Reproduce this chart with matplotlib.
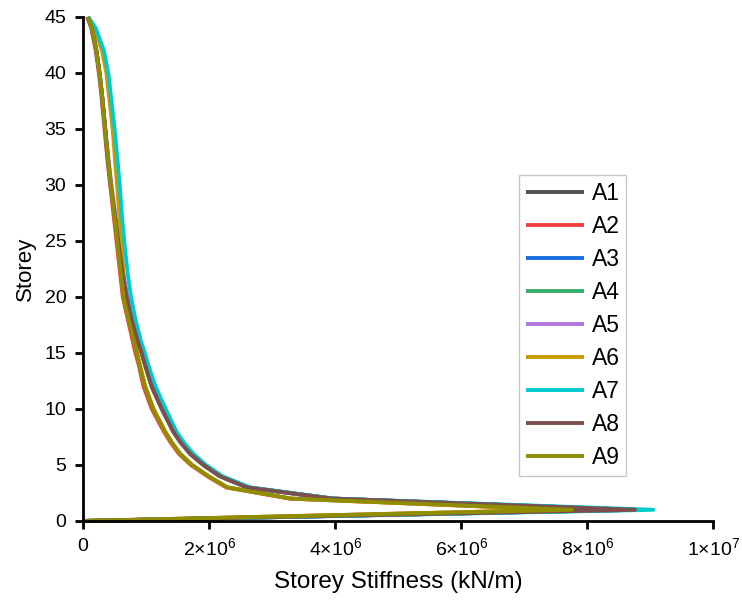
import numpy as np
from matplotlib import pyplot as plt

plt.rcParams['font.family'] = ['Liberation Sans', 'DejaVu Sans']
plt.rcParams['mathtext.fontset'] = 'custom'
plt.rcParams['mathtext.rm'] = 'Liberation Sans'
plt.rcParams['mathtext.it'] = 'Liberation Sans'

# storey numbers and stiffness values (x1e6 kN/m)
storey = [0, 1, 2, 3, 4, 5, 6, 7, 8, 10, 12, 14, 15, 16, 18, 20, 22, 24, 27, 30, 32, 35, 38, 40, 42, 44, 45]

A1 = [0, 8.76, 3.95, 2.60, 2.17, 1.91, 1.70, 1.55, 1.43, 1.25, 1.09, 0.98, 0.93, 0.87, 0.77, 0.69, 0.63, 0.58, 0.51, 0.44, 0.40, 0.35, 0.30, 0.26, 0.21, 0.14, 0.07]
A2 = [0, 7.70, 3.28, 2.27, 1.97, 1.71, 1.52, 1.39, 1.28, 1.09, 0.96, 0.88, 0.83, 0.79, 0.71, 0.63, 0.59, 0.55, 0.49, 0.43, 0.39, 0.34, 0.29, 0.25, 0.20, 0.13, 0.07]
A3 = [0, 8.75, 3.95, 2.61, 2.18, 1.92, 1.71, 1.56, 1.44, 1.26, 1.10, 0.99, 0.94, 0.88, 0.78, 0.70, 0.63, 0.58, 0.51, 0.44, 0.40, 0.35, 0.30, 0.26, 0.21, 0.14, 0.07]
A4 = [0, 8.74, 3.94, 2.60, 2.17, 1.91, 1.70, 1.55, 1.43, 1.25, 1.09, 0.98, 0.93, 0.87, 0.77, 0.69, 0.63, 0.58, 0.51, 0.44, 0.40, 0.35, 0.30, 0.26, 0.21, 0.14, 0.07]
A5 = [0, 8.76, 3.95, 2.61, 2.18, 1.92, 1.71, 1.56, 1.44, 1.26, 1.10, 0.99, 0.94, 0.88, 0.78, 0.70, 0.64, 0.59, 0.52, 0.45, 0.41, 0.35, 0.30, 0.26, 0.21, 0.14, 0.07]
A6 = [0, 7.60, 3.30, 2.29, 1.99, 1.73, 1.54, 1.41, 1.30, 1.12, 0.99, 0.90, 0.86, 0.82, 0.74, 0.67, 0.64, 0.62, 0.58, 0.54, 0.51, 0.47, 0.41, 0.37, 0.30, 0.18, 0.08]
A7 = [0, 9.05, 3.98, 2.65, 2.21, 1.95, 1.75, 1.60, 1.48, 1.31, 1.15, 1.03, 0.98, 0.92, 0.83, 0.76, 0.71, 0.67, 0.62, 0.58, 0.55, 0.50, 0.44, 0.40, 0.33, 0.20, 0.08]
A8 = [0, 8.76, 3.95, 2.60, 2.17, 1.91, 1.70, 1.55, 1.43, 1.25, 1.09, 0.98, 0.93, 0.87, 0.77, 0.69, 0.63, 0.58, 0.51, 0.44, 0.40, 0.35, 0.30, 0.26, 0.21, 0.14, 0.07]
A9 = [0, 7.76, 3.30, 2.29, 1.99, 1.73, 1.54, 1.41, 1.30, 1.11, 0.98, 0.89, 0.85, 0.81, 0.72, 0.64, 0.60, 0.56, 0.50, 0.44, 0.40, 0.35, 0.30, 0.26, 0.21, 0.14, 0.07]

names = ['A1', 'A2', 'A3', 'A4', 'A5', 'A6', 'A7', 'A8', 'A9']
series = [A1, A2, A3, A4, A5, A6, A7, A8, A9]
colors = ['#515151', '#F14040', '#1A6FDF', '#37AD6B', '#B177DE',
          '#CC9900', '#00CBCC', '#7D4E4E', '#8E8E00']

xticks = [0, 2e6, 4e6, 6e6, 8e6, 1e7]
xlabels = ['0', r'$2{\times}10^6$', r'$4{\times}10^6$', r'$6{\times}10^6$',
           r'$8{\times}10^6$', r'$1{\times}10^7$']

fig = plt.figure(figsize=(7.42, 6.07), dpi=100)
ax = fig.add_axes([0.112, 0.1417, 0.849, 0.8303])

for name, vals, c in zip(names, series, colors):
    ax.plot(np.array(vals) * 1e6, storey, lw=2.8, color=c, label=name,
            solid_joinstyle='round', solid_capstyle='butt', clip_on=False)

ax.set_xlim(0, 1e7)
ax.set_ylim(0, 45)
ax.set_xticks(xticks)
ax.set_xticklabels(xlabels)
ax.set_yticks(range(0, 46, 5))

for s in ['top', 'right']:
    ax.spines[s].set_visible(False)
for s in ['left', 'bottom']:
    ax.spines[s].set_linewidth(2.0)
ax.tick_params(direction='out', length=6, width=2.0, labelsize=14, pad=6)

ax.set_xlabel('Storey Stiffness (kN/m)', fontsize=17.5, labelpad=8)
ax.set_ylabel('Storey', fontsize=16, labelpad=6)

leg = ax.legend(loc='upper left', bbox_to_anchor=(0.700, 0.712),
                bbox_transform=fig.transFigure, fontsize=16.5, frameon=True,
                fancybox=False, edgecolor='#BBBBBB', handlelength=2.5,
                handletextpad=0.35, labelspacing=0.44, borderpad=0.3,
                borderaxespad=0)
leg.get_frame().set_linewidth(1.0)

plt.savefig('out.png', dpi=100)
